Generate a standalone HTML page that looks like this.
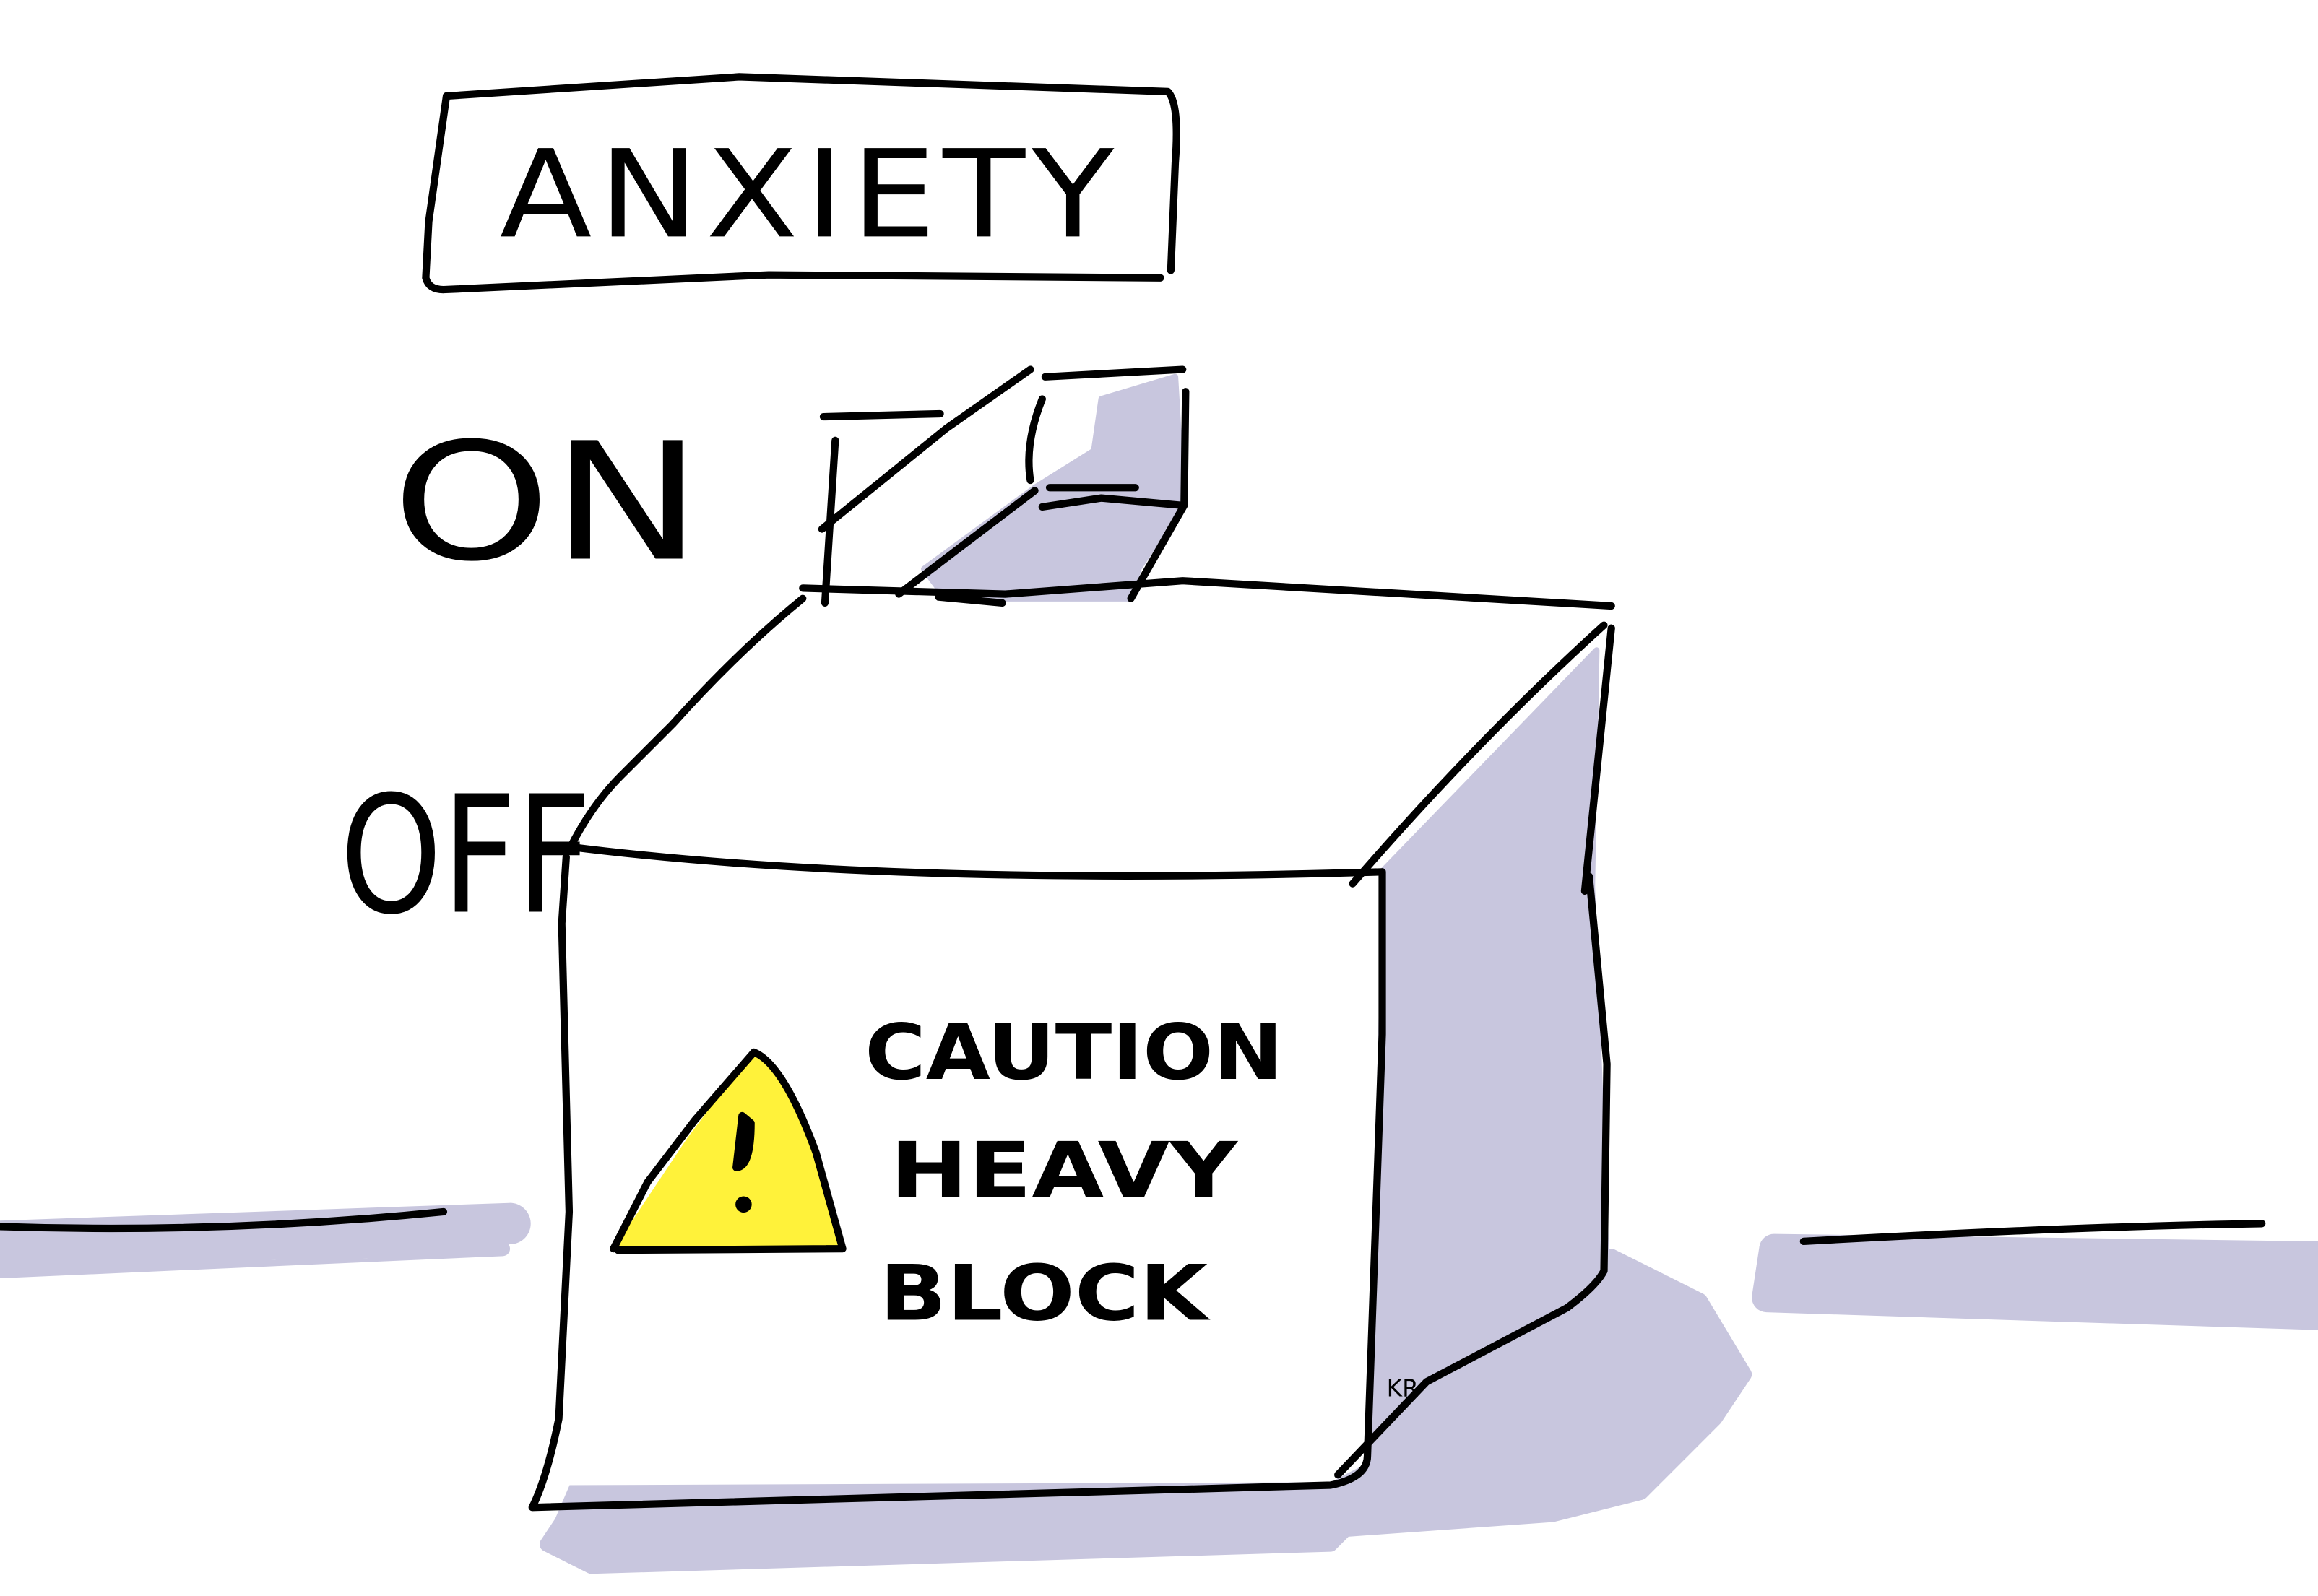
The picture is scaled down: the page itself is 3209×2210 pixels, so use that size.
<!DOCTYPE html>
<html><head><meta charset="utf-8"><style>
html,body{margin:0;padding:0;background:#fff;width:3209px;height:2210px;overflow:hidden}
svg{display:block}
text{font-family:"Comic Sans MS","DejaVu Sans","Liberation Sans",sans-serif;fill:#000}
</style></head><body>
<svg width="3209" height="2210" viewBox="0 0 1568 1080" preserveAspectRatio="none" xmlns="http://www.w3.org/2000/svg">
<g fill="#c8c6de" stroke="#c8c6de" stroke-linecap="round" stroke-linejoin="round">
  <!-- floor shadows -->
  <path d="M0,840 L345,828" stroke-width="28" fill="none"/>
  <path d="M0,850 L340,845 L0,860Z" stroke-width="10"/>
  <path d="M1200,845 L1568,850 L1568,890 L1195,878Z" stroke-width="20"/>
  <!-- bottom shadow -->
  <path d="M395,995 L860,985 L930,930 L1090,850 L1150,880 L1180,930 L1160,960 L1110,1010 L1050,1025 L910,1035 L900,1045 L400,1060 L370,1045 L380,1030Z" stroke-width="10"/>
  <!-- right face -->
  <path d="M925,600 L1080,440 L1077,600 L1087,860 L1080,870 L925,990Z" stroke-width="4"/>
  <!-- lid flap shadow -->
  <path d="M745,270 L795,255 L800,340 L770,385 L765,405 L640,405 L625,385 L700,330 L740,305Z" stroke-width="4"/>
</g>
<!-- box front face white -->
<path d="M385,575 L935,590 L925,990 L900,1003 L380,1005 L362,1020 L383,600Z" fill="#fff" stroke="none"/>
<g fill="none" stroke="#000" stroke-width="5" stroke-linecap="round" stroke-linejoin="round">
  <!-- ANXIETY box -->
  <path d="M302,65 L500,52 L790,62 Q798,70 795,110 L792,183"/>
  <path d="M302,65 L290,150 L288,188 Q290,196 300,196 L520,186 L785,188"/>
  <!-- floor lines -->
  <path d="M0,830 Q150,835 300,820"/>
  <path d="M1220,840 Q1400,830 1530,828"/>
  <!-- top face -->
  <path d="M385,575 Q400,545 420,525 L455,490 Q500,440 543,405"/>
  <path d="M543,398 L680,402 L800,393 L1090,410"/>
  <path d="M385,573 Q600,600 935,590"/>
  <path d="M1085,423 Q1000,500 915,598"/>
  <path d="M1090,425 L1072,603"/>
  <!-- front face -->
  <path d="M383,580 L380,625 L385,820 L378,960 Q370,1000 360,1020 L900,1005 Q925,1000 925,985 L935,700 L935,590"/>
  <!-- right face -->
  <path d="M1075,593 L1087,720 L1085,860 Q1080,870 1060,885 L965,935 L905,998"/>
  <!-- lid flap -->
  <path d="M557,282 L636,280"/>
  <path d="M565,298 L558,408"/>
  <path d="M556,358 L640,290 L697,250"/>
  <path d="M608,402 L650,370 L700,332"/>
  <path d="M707,255 L800,250"/>
  <path d="M802,265 L801,342 L765,405"/>
  <path d="M705,270 Q693,300 697,325"/>
  <path d="M710,330 L768,330"/>
  <path d="M705,343 L745,337 L800,342"/>
  <path d="M635,404 L678,408"/>
  <!-- warning triangle -->
  <path d="M415,845 L465,770 L510,710 Q530,720 555,790 L570,845 Z" fill="#fff23a" stroke="none"/>
  <path d="M415,845 L438,800 L470,758 L510,712 Q530,720 552,780 L570,845 L418,846"/>
  <path d="M502,755 L498,790 Q508,790 508,760Z" fill="#000"/>
  <circle cx="503" cy="815" r="3" fill="#000"/>
</g>
<text x="338" y="160" font-size="82" letter-spacing="4" textLength="420" lengthAdjust="spacingAndGlyphs">ANXIETY</text>
<text x="265" y="378" font-size="110" textLength="210" lengthAdjust="spacingAndGlyphs">ON</text>
<text x="230" y="617" font-size="110" textLength="170" lengthAdjust="spacingAndGlyphs">OFF</text>
<g font-weight="bold" font-size="52">
<text x="585" y="730" textLength="283" lengthAdjust="spacingAndGlyphs">CAUTION</text>
<text x="602" y="810" textLength="235" lengthAdjust="spacingAndGlyphs">HEAVY</text>
<text x="595" y="893" textLength="222" lengthAdjust="spacingAndGlyphs">BLOCK</text>
</g>
<text x="938" y="945" font-size="16">KR</text>
</svg>
</body></html>
